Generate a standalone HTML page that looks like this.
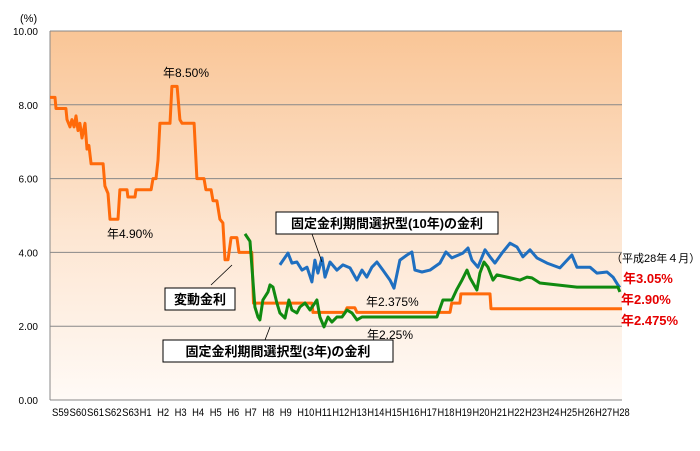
<!DOCTYPE html>
<html><head><meta charset="utf-8">
<style>
body{margin:0;background:#fff;font-family:"Liberation Sans","Noto Sans CJK JP",sans-serif;}
svg text{font-family:"Liberation Sans","Noto Sans CJK JP",sans-serif;}
</style></head>
<body>
<svg id="chart" width="700" height="446" viewBox="0 0 700 446" xmlns="http://www.w3.org/2000/svg">
<defs>
<linearGradient id="bg" x1="0" y1="0" x2="0" y2="1">
<stop offset="0" stop-color="#f9c596"/>
<stop offset="0.55" stop-color="#fde6d2"/>
<stop offset="1" stop-color="#fffaf6"/>
</linearGradient>
</defs>
<rect x="50" y="31" width="572" height="369" fill="url(#bg)"/>
<g id="grid"></g>
<g id="axes"></g>
<g id="series"></g>
<text x="20" y="22" font-size="11">(%)</text>
<g font-size="12">
<text x="163" y="77">年8.50%</text>
<text x="107" y="238">年4.90%</text>
<text x="366" y="306">年2.375%</text>
<text x="367" y="339">年2.25%</text>
<line x1="211" y1="285" x2="232" y2="265" stroke="#000" stroke-width="0.8"/>
<rect x="165" y="288" width="70" height="22" fill="#fff" stroke="#000"/>
<text x="200" y="304" font-size="13" font-weight="bold" text-anchor="middle">変動金利</text>
<line x1="312" y1="234" x2="322" y2="262" stroke="#000" stroke-width="0.8"/>
<rect x="276" y="212" width="222" height="22" fill="#fff" stroke="#000"/>
<text x="387" y="228" font-size="13" font-weight="bold" text-anchor="middle">固定金利期間選択型(10年)の金利</text>
<line x1="270" y1="327" x2="265" y2="340" stroke="#000" stroke-width="0.8"/>
<rect x="163" y="340" width="230" height="22" fill="#fff" stroke="#000"/>
<text x="278" y="356" font-size="13" font-weight="bold" text-anchor="middle">固定金利期間選択型(3年)の金利</text>
<text x="611" y="262" font-size="11">（平成28年４月）</text>
<text x="623" y="283" font-size="13" font-weight="bold" fill="#e60000">年3.05%</text>
<text x="621" y="304" font-size="13" font-weight="bold" fill="#e60000">年2.90%</text>
<text x="621" y="325" font-size="13" font-weight="bold" fill="#e60000">年2.475%</text>
</g>
</svg>
<script>
const yTicks=[0,2,4,6,8,10];
const xLabels=["S59","S60","S61","S62","S63","H1","H2","H3","H4","H5","H6","H7","H8","H9","H10","H11","H12","H13","H14","H15","H16","H17","H18","H19","H20","H21","H22","H23","H24","H25","H26","H27","H28"];
const varT=[1984.0,1984.28,1984.34,1984.9,1984.96,1985.13,1985.24,1985.36,1985.47,1985.58,1985.69,1985.81,1985.98,1986.09,1986.2,1986.32,1987.0,1987.1,1987.28,1987.39,1987.84,1987.95,1988.35,1988.4,1988.8,1988.86,1989.71,1989.82,1989.99,1990.1,1990.21,1990.78,1990.89,1991.18,1991.34,1991.46,1992.14,1992.3,1992.7,1992.81,1993.1,1993.21,1993.43,1993.6,1993.77,1993.89,1994.06,1994.23,1994.56,1994.68,1995.4,1995.5,1998.8,1998.86,2000.67,2000.78,2001.23,2001.34,2006.6,2006.7,2007.16,2007.22,2008.86,2008.92,2016.32];
const varV=[8.2,8.2,7.9,7.9,7.6,7.4,7.6,7.4,7.7,7.3,7.5,7.1,7.5,6.8,6.9,6.4,6.4,5.8,5.6,4.9,4.9,5.7,5.7,5.5,5.5,5.7,5.7,6.0,6.0,6.5,7.5,7.5,8.5,8.5,7.6,7.5,7.5,6.0,6.0,5.7,5.7,5.4,5.4,4.9,4.8,3.8,3.8,4.4,4.4,4.0,4.0,2.625,2.625,2.375,2.375,2.5,2.5,2.375,2.375,2.625,2.625,2.875,2.875,2.475,2.475];
const f3T=[1995.02,1995.3,1995.58,1995.75,1995.86,1996.03,1996.32,1996.43,1996.6,1996.82,1996.99,1997.28,1997.5,1997.67,1997.95,1998.12,1998.41,1998.69,1998.97,1999.08,1999.25,1999.48,1999.71,1999.93,2000.21,2000.5,2000.78,2001.06,2001.34,2001.63,2005.86,2006.2,2006.71,2006.99,2007.28,2007.56,2007.73,2008.12,2008.29,2008.52,2008.75,2009.03,2009.25,2009.82,2010.55,2010.95,2011.23,2011.68,2013.77,2016.09,2016.2];
const f3V=[4.5,4.3,2.52,2.25,2.17,2.71,2.93,3.12,3.06,2.63,2.36,2.22,2.71,2.44,2.36,2.52,2.63,2.44,2.63,2.71,2.25,1.98,2.25,2.11,2.25,2.25,2.44,2.36,2.17,2.25,2.25,2.71,2.71,3.0,3.25,3.52,3.31,2.98,3.44,3.74,3.6,3.25,3.39,3.33,3.25,3.33,3.31,3.17,3.06,3.06,2.93];
const f10T=[1996.99,1997.45,1997.67,1997.95,1998.24,1998.52,1998.8,1998.97,1999.14,1999.37,1999.54,1999.82,2000.21,2000.55,2000.95,2001.34,2001.63,2001.9,2002.19,2002.47,2002.81,2003.21,2003.44,2003.77,2004.17,2004.45,2004.62,2005.02,2005.47,2006.03,2006.37,2006.71,2007.33,2007.62,2007.84,2008.18,2008.58,2008.86,2009.14,2009.54,2009.99,2010.38,2010.72,2011.12,2011.51,2012.08,2012.81,2013.49,2013.77,2014.51,2014.9,2015.47,2015.81,2016.09,2016.2];
const f10V=[3.66,3.98,3.71,3.74,3.52,3.6,3.2,3.79,3.44,3.85,3.33,3.74,3.52,3.66,3.58,3.25,3.52,3.33,3.6,3.74,3.52,3.25,3.03,3.79,3.93,4.01,3.52,3.47,3.52,3.71,4.01,3.85,3.98,4.12,3.79,3.6,4.07,3.88,3.71,3.98,4.25,4.15,3.88,4.07,3.85,3.71,3.58,3.93,3.6,3.6,3.44,3.47,3.33,3.12,3.05];

const NS="http://www.w3.org/2000/svg";
const X0=50,X1=622,T0=1984.0,T1=2016.32,Y0=400,Y1=31;
function xs(t){return X0+(t-T0)/(T1-T0)*(X1-X0);}
function ys(v){return Y0-(v/10)*(Y0-Y1);}
function mk(tag,attrs,parent){const e=document.createElementNS(NS,tag);for(const k in attrs)e.setAttribute(k,attrs[k]);parent.appendChild(e);return e;}
const grid=document.getElementById('grid'),axes=document.getElementById('axes'),series=document.getElementById('series');
yTicks.forEach(v=>{
  if(v>0){const l=mk('line',{x1:X0,x2:X1,y1:ys(v),y2:ys(v),stroke:'#888','stroke-width':1},grid);
  
  }
  const t=mk('text',{x:38,y:ys(v)+4,'font-size':10,'text-anchor':'end'},axes);
  t.textContent=v.toFixed(2);
  
  
});
const ax=mk('line',{x1:X0,x2:X0,y1:Y1,y2:Y0,stroke:'#888','stroke-width':1},axes);


const bx=mk('line',{x1:X0,x2:X1,y1:Y0,y2:Y0,stroke:'#888','stroke-width':1},axes);


const labStep=(X1-X0)/(T1-T0);
xLabels.forEach((s,i)=>{
  const t=mk('text',{x:52+i*labStep*0.99,y:416,'font-size':11,textLength:s.length>2?17:12,lengthAdjust:'spacingAndGlyphs'},axes);
  t.textContent=s;
  
  
});
function line(T,V,color,w,name){
  let d='';
  T.forEach((t,i)=>{d+=(i?'L':'M')+xs(t).toFixed(1)+','+ys(V[i]).toFixed(1);});
  const p=mk('path',{d:d,fill:'none',stroke:color,'stroke-width':w,'stroke-linejoin':'round'},series);
  
  
}
line(varT,varV,'#ff6a0a',3,'variable-rate-line');
line(f10T,f10V,'#1f6fc0',3,'fixed-10yr-line');
line(f3T,f3V,'#108a10',3,'fixed-3yr-line');
</script>
</body></html>
